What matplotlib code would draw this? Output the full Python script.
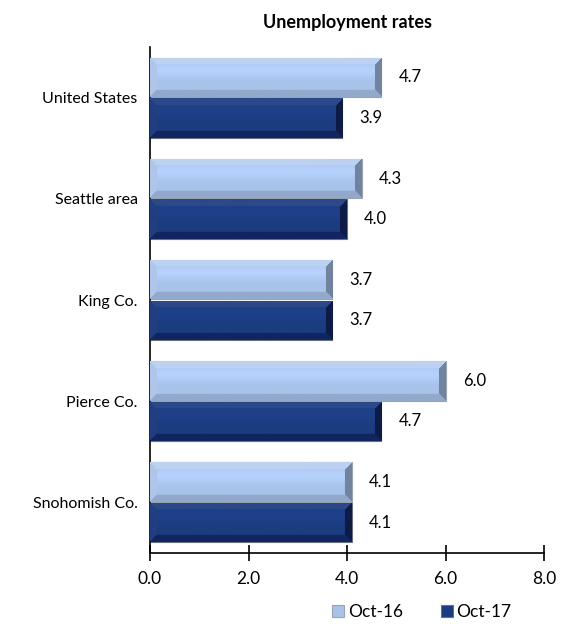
import numpy as np
import matplotlib.pyplot as plt
from matplotlib.colors import to_rgb

plt.rcParams['font.family'] = ['Lato', 'DejaVu Sans']

# Data
regions = ["United States", "Seattle area", "King Co.", "Pierce Co.", "Snohomish Co."]
oct16 = [4.7, 4.3, 3.7, 6.0, 4.1]
oct17 = [3.9, 4.0, 3.7, 4.7, 4.1]
x_ticks = [0.0, 2.0, 4.0, 6.0, 8.0]

# colours: interior, top, bottom, left, right bevels
light = ["#a8c2ea", "#bdd1f1", "#93a9cb", "#afc6ea", "#72839e"]
dark = ["#1c3c80", "#2b4989", "#112561", "#213f80", "#0d1b46"]


def bevel(ax, bar, cols, bw=7):
    # paint a picture-frame bevel inside a bar patch
    x0, y0 = bar.get_x(), bar.get_y()
    w, h = bar.get_width(), bar.get_height()
    p0 = ax.transData.transform((x0, y0))
    p1 = ax.transData.transform((x0 + w, y0 + h))
    pw = max(int(abs(p1[0] - p0[0])), 2)
    ph = max(int(abs(p1[1] - p0[1])), 2)
    c = [np.array(to_rgb(k)) for k in cols]
    yy, xx = np.mgrid[0:ph, 0:pw]
    # interior with a soft light band near the top
    band = np.exp(-((yy - ph * 0.32) / (ph * 0.18)) ** 2)
    img = c[0][None, None, :] * (1 + 0.08 * band[:, :, None])
    d = np.stack([yy, ph - 1 - yy, xx, pw - 1 - xx])
    which = d.argmin(axis=0)
    near = d.min(axis=0) < bw
    for k in range(4):
        m = near & (which == k)
        img[m] = c[k + 1]
    img = np.clip(img, 0, 1)
    im = ax.imshow(img, extent=(x0, x0 + w, y0 + h, y0), aspect='auto',
                   interpolation='bilinear', zorder=3)
    im.set_clip_path(bar)


fig = plt.figure(figsize=(5.61, 6.3), dpi=100)
ax = fig.add_axes([0.2674, 0.1222, 0.7023, 0.8032])

y = np.arange(len(regions))
h = 0.39
b16 = ax.barh(y - 0.2, oct16, height=h, color=light[0], edgecolor="#9aa3b0",
              linewidth=0.8, zorder=2, label="Oct-16")
b17 = ax.barh(y + 0.2, oct17, height=h, color=dark[0], edgecolor="#6a707c",
              linewidth=0.8, zorder=2, label="Oct-17")

ax.set_xlim(0, 8)
ax.set_ylim(len(regions) - 0.5, -0.5)
fig.canvas.draw()

for bars, cols in ((b16, light), (b17, dark)):
    for bar in bars:
        bevel(ax, bar, cols)

for bars, vals in ((b16, oct16), (b17, oct17)):
    for bar, v in zip(bars, vals):
        ax.text(v + 0.35, bar.get_y() + bar.get_height() / 2, f"{v:.1f}",
                va='center', ha='left', fontsize=12)

ax.set_yticks(y)
ax.set_yticklabels(regions, fontsize=11.5)
ax.tick_params(axis='y', length=0, pad=9)
ax.set_xticks(x_ticks)
ax.set_xticklabels([f"{t:.1f}" for t in x_ticks], fontsize=12.5)
ax.tick_params(axis='x', direction='inout', length=12, width=1.2, pad=7)

for s in ['top', 'right']:
    ax.spines[s].set_visible(False)
ax.spines['left'].set_linewidth(1.2)
ax.spines['bottom'].set_linewidth(1.2)

ax.set_title("Unemployment rates", fontsize=13, fontweight='bold', pad=14)

leg = ax.legend(loc='upper center', bbox_to_anchor=(0.69, -0.07), ncol=2,
                frameon=False, fontsize=12.5, handlelength=0.7, handleheight=0.7,
                handletextpad=0.2, columnspacing=2.2)

fig.savefig("out.png", dpi=100)
